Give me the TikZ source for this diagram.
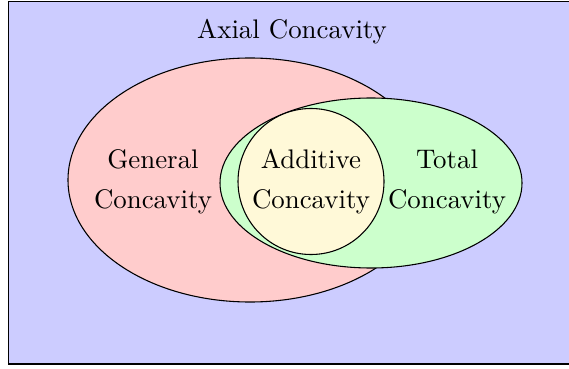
\documentclass[tikz,border=0pt]{standalone}
\definecolor{creamfill}{RGB}{255,249,216}
\begin{document}
\begin{tikzpicture}[x=0.372pt,y=-0.372pt,
  setline/.style={draw=black,line width=0.4pt},
  lbl/.style={align=center,font=\normalsize}]
\useasboundingbox (0,0) rectangle (569,368);
\path[setline,fill=blue!20] (8.5,1.5) rectangle (570,364);
\path[setline,fill=red!20] (250,180) ellipse [x radius=182,y radius=122];
\path[setline,fill=green!20] (371,183) ellipse [x radius=151,y radius=85];
\path[setline,fill=creamfill] (311,181.5) circle [radius=73];
\node[lbl] (axial) at (292,32) {Axial Concavity};
\node[lbl] (general) at (153,182) {General\\[2.9pt]Concavity};
\node[lbl] (additive) at (311,182) {Additive\\[2.9pt]Concavity};
\node[lbl] (total) at (447,182) {Total\\[2.9pt]Concavity};
\end{tikzpicture}
\end{document}
